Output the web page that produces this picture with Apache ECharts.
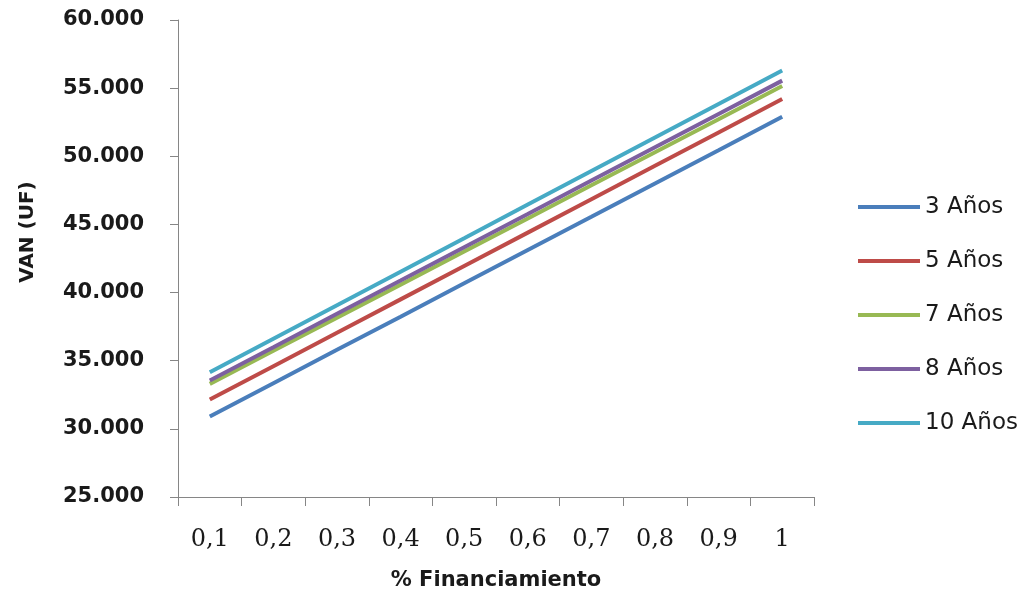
<!DOCTYPE html>
<html>
<head>
<meta charset="utf-8">
<script src="https://cdn.jsdelivr.net/npm/echarts@6/dist/echarts.min.js"></script>
<style>
  html, body { margin: 0; padding: 0; background: #fff; }
  #chart { width: 1029px; height: 596px; }
</style>
</head>
<body>
<div id="chart"></div>
<script>
// Porcentaje de financiamiento (eje X)
const categories = ['0,1', '0,2', '0,3', '0,4', '0,5', '0,6', '0,7', '0,8', '0,9', '1'];

// VAN (UF) según plazo del crédito
const van3 = [30900, 33350, 35800, 38230, 40680, 43120, 45560, 48010, 50450, 52900];
const van5 = [32150, 34600, 37050, 39500, 41950, 44400, 46850, 49300, 51750, 54200];
const van7 = [33300, 35730, 38160, 40580, 43010, 45440, 47870, 50290, 52720, 55150];
const van8 = [33550, 35990, 38440, 40880, 43330, 45770, 48220, 50660, 53110, 55550];
const van10 = [34150, 36610, 39070, 41530, 43990, 46460, 48920, 51380, 53840, 56300];

const seriesNames = ['3 Años', '5 Años', '7 Años', '8 Años', '10 Años'];
const seriesData = [van3, van5, van7, van8, van10];
const colors = ['#4a7ebb', '#be4b48', '#98b954', '#7d60a0', '#46aac5'];

const chart = echarts.init(document.getElementById('chart'));

chart.setOption({
  animation: false,
  backgroundColor: '#ffffff',
  color: colors,
  grid: { left: 178, right: 215, top: 20, bottom: 97, containLabel: false },
  legend: {
    orient: 'vertical',
    left: 858,
    top: 195,
    padding: 0,
    icon: 'rect',
    itemWidth: 62,
    itemHeight: 4,
    itemGap: 30,
    textStyle: { fontFamily: 'DejaVu Sans', fontSize: 23, color: '#1a1a1a', lineHeight: 24, padding: [0, 0, 0, 0] },
    data: seriesNames
  },
  xAxis: {
    type: 'category',
    data: categories,
    boundaryGap: true,
    name: '% Financiamiento',
    nameLocation: 'middle',
    nameGap: 73,
    nameTextStyle: { fontFamily: 'DejaVu Sans', fontWeight: 'bold', fontSize: 21, color: '#1a1a1a' },
    axisLine: { lineStyle: { color: '#868686', width: 1 } },
    axisTick: { show: true, length: 9, alignWithLabel: false, lineStyle: { color: '#868686' } },
    axisLabel: { fontFamily: 'DejaVu Serif', fontSize: 24, color: '#1a1a1a', margin: 31 },
    splitLine: { show: false }
  },
  yAxis: {
    type: 'value',
    min: 25000,
    max: 60000,
    interval: 5000,
    axisLine: { show: true, lineStyle: { color: '#868686', width: 1 } },
    axisTick: { show: true, length: 8, lineStyle: { color: '#868686' } },
    axisLabel: {
      fontFamily: 'DejaVu Sans', fontWeight: 'bold', fontSize: 21, color: '#1a1a1a', margin: 34,
      formatter: v => (v / 1000).toFixed(0) + '.000'
    },
    splitLine: { show: false }
  },
  graphic: [{
    type: 'text',
    x: 28,
    y: 232,
    rotation: Math.PI / 2,
    style: {
      text: 'VAN (UF)',
      fontFamily: 'DejaVu Sans',
      fontWeight: 'bold',
      fontSize: 20,
      fill: '#1a1a1a',
      align: 'center',
      verticalAlign: 'middle'
    }
  }],
  series: seriesData.map((d, i) => ({
    name: seriesNames[i],
    type: 'line',
    data: d,
    showSymbol: false,
    symbol: 'none',
    lineStyle: { width: 4, color: colors[i] },
    z: 2 + i
  }))
});
</script>
</body>
</html>
